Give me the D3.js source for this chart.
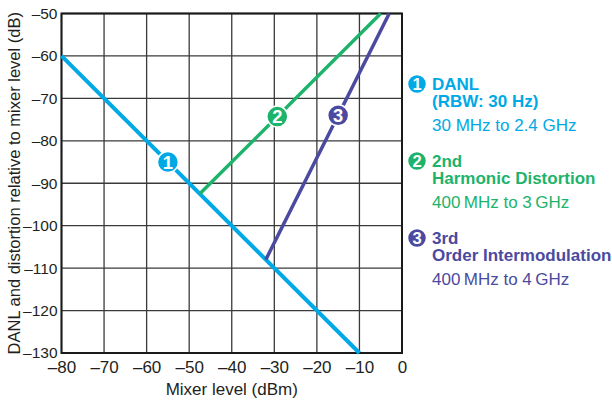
<!DOCTYPE html>
<html>
<head>
<meta charset="utf-8">
<script src="https://cdn.jsdelivr.net/npm/d3@7"></script>
<style>
  html, body { margin: 0; padding: 0; background: #fff; }
  svg text { font-family: "Liberation Sans", Arial, sans-serif; }
</style>
</head>
<body>
<div id="chart"></div>
<script>
var width = 612;
var height = 400;

// plot box
var plotLeft = 61.5, plotRight = 402, plotTop = 13.5, plotBottom = 353;

var xTicks = [-80, -70, -60, -50, -40, -30, -20, -10, 0];
var yTicks = [-50, -60, -70, -80, -90, -100, -110, -120, -130];

// the three curves, endpoints
var danlX = [-80, -10];
var danlY = [-60, -130];
var harm2X = [-47.5, -5];
var harm2Y = [-92.5, -50];
var im3X = [-32, -3];
var im3Y = [-108, -50];

var seriesColors = ["#00a9e6", "#1db36b", "#4b4aa0"];

// numbered badges sitting on the lines
var badgeLabels = ["1", "2", "3"];
var badgeX = [-55, -29.3, -15];
var badgeY = [-85, -74.3, -74];

// legend text, one list of lines per series
var legendBold = [["DANL", "(RBW: 30 Hz)"], ["2nd", "Harmonic Distortion"], ["3rd", "Order Intermodulation"]];
var legendRange = ["30 MHz to 2.4 GHz", "400\u2009MHz to 3\u2009GHz", "400\u2009MHz to 4\u2009GHz"];

var fontSize = 17;

function dash(v) {
    return v < 0 ? "\u2013" + Math.abs(v) : String(v);
}

var svg = d3.select("#chart").append("svg")
    .attr("width", width)
    .attr("height", height);

var x = d3.scaleLinear().domain([-80, 0]).range([plotLeft, plotRight]);
var y = d3.scaleLinear().domain([-130, -50]).range([plotBottom, plotTop]);

// grid
svg.append("g").selectAll("line")
    .data(xTicks)
    .enter().append("line")
    .attr("x1", function (d) { return x(d); })
    .attr("x2", function (d) { return x(d); })
    .attr("y1", plotTop)
    .attr("y2", plotBottom)
    .attr("stroke", "#3a3a3a")
    .attr("stroke-width", 1.3);

svg.append("g").selectAll("line")
    .data(yTicks)
    .enter().append("line")
    .attr("x1", plotLeft)
    .attr("x2", plotRight)
    .attr("y1", function (d) { return y(d); })
    .attr("y2", function (d) { return y(d); })
    .attr("stroke", "#3a3a3a")
    .attr("stroke-width", 1.3);

svg.append("rect")
    .attr("x", plotLeft)
    .attr("y", plotTop)
    .attr("width", plotRight - plotLeft)
    .attr("height", plotBottom - plotTop)
    .attr("fill", "none")
    .attr("stroke", "#1a1a1a")
    .attr("stroke-width", 2);

// axes labels via d3 axes, domain and ticks hidden
var xAxis = svg.append("g")
    .attr("transform", "translate(0," + plotBottom + ")")
    .call(d3.axisBottom(x).tickValues(xTicks).tickFormat(dash).tickSize(0).tickPadding(8));
var yAxis = svg.append("g")
    .attr("transform", "translate(" + plotLeft + ",0)")
    .call(d3.axisLeft(y).tickValues(yTicks).tickFormat(dash).tickSize(0).tickPadding(4));

xAxis.select(".domain").remove();
yAxis.select(".domain").remove();
xAxis.selectAll("text")
    .attr("font-family", "Liberation Sans, Arial, sans-serif")
    .attr("font-size", fontSize + "px")
    .attr("fill", "#231f20");
yAxis.selectAll("text")
    .attr("font-family", "Liberation Sans, Arial, sans-serif")
    .attr("font-size", "15.5px")
    .attr("fill", "#231f20");

svg.append("text")
    .attr("x", (plotLeft + plotRight) / 2)
    .attr("y", 395)
    .attr("text-anchor", "middle")
    .attr("font-size", fontSize + "px")
    .attr("fill", "#231f20")
    .text("Mixer level (dBm)");

svg.append("text")
    .attr("transform", "translate(20," + ((plotTop + plotBottom) / 2) + ") rotate(-90)")
    .attr("text-anchor", "middle")
    .attr("font-size", "16.5px")
    .attr("fill", "#231f20")
    .text("DANL and distortion relative to mixer level (dB)");

// series lines
var lineGen = d3.line()
    .x(function (d) { return x(d[0]); })
    .y(function (d) { return y(d[1]); });

var series = [d3.zip(danlX, danlY), d3.zip(harm2X, harm2Y), d3.zip(im3X, im3Y)];
var lineWidths = [4, 3.5, 3.5];

svg.append("g").selectAll("path")
    .data(series)
    .enter().append("path")
    .attr("d", lineGen)
    .attr("fill", "none")
    .attr("stroke", function (d, i) { return seriesColors[i]; })
    .attr("stroke-width", function (d, i) { return lineWidths[i]; });

// badges
function badge(sel, r) {
    sel.append("circle")
        .attr("r", r)
        .attr("fill", function (d, i) { return seriesColors[i]; })
        .attr("stroke", "#fff")
        .attr("stroke-width", 1.5);
    sel.append("text")
        .attr("text-anchor", "middle")
        .attr("dy", "0.36em")
        .attr("font-size", (r * 1.75) + "px")
        .attr("font-weight", "bold")
        .attr("fill", "#fff")
        .text(function (d, i) { return badgeLabels[i]; });
}

var onLine = svg.append("g").selectAll("g")
    .data(badgeLabels)
    .enter().append("g")
    .attr("transform", function (d, i) {
        return "translate(" + x(badgeX[i]) + "," + y(badgeY[i]) + ")";
    });
badge(onLine, 10.5);

// legend
var legendTop = 90, legendStep = 77;
var legend = svg.append("g").selectAll("g")
    .data(badgeLabels)
    .enter().append("g")
    .attr("transform", function (d, i) {
        return "translate(0," + (legendTop + i * legendStep) + ")";
    });

var legendBadge = legend.append("g")
    .attr("transform", "translate(417,-6)");
badge(legendBadge, 9.5);

legend.each(function (d, i) {
    var g = d3.select(this);
    legendBold[i].forEach(function (line, j) {
        g.append("text")
            .attr("x", 432)
            .attr("y", j * 17)
            .attr("font-size", fontSize + "px")
            .attr("font-weight", "bold")
            .attr("fill", seriesColors[i])
            .text(line);
    });
    g.append("text")
        .attr("x", 432)
        .attr("y", 41)
        .attr("font-size", fontSize + "px")
        .attr("fill", seriesColors[i])
        .text(legendRange[i]);
});
</script>
</body>
</html>
